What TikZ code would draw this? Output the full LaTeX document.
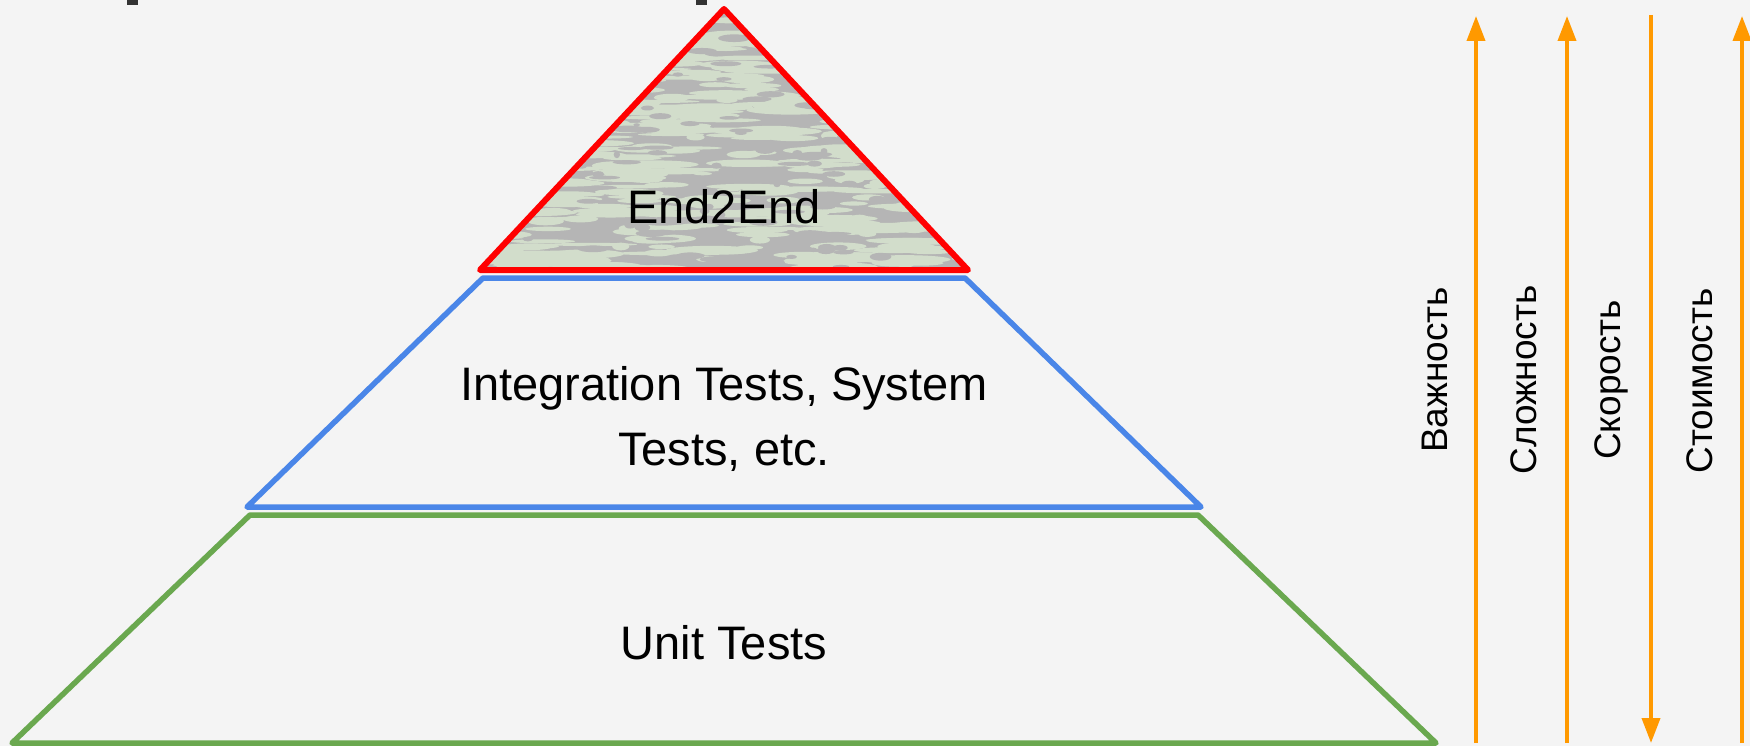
\documentclass[tikz,border=0pt]{standalone}
\usepackage{fontspec}
\setmainfont{Liberation Sans}
\usetikzlibrary{arrows.meta}
\definecolor{bg}{HTML}{F4F4F4}
\definecolor{tred}{HTML}{FF0000}
\definecolor{tblue}{HTML}{4A86E8}
\definecolor{tgreen}{HTML}{6AA84F}
\definecolor{torange}{HTML}{FF9900}
\definecolor{tgray}{HTML}{B5B5B5}
\definecolor{tpale}{HTML}{D2DDCB}
\definecolor{tdark}{HTML}{333333}
\tikzset{
  layer/.style={line width=5.5pt, line join=round, line cap=round},
  bigtext/.style={font=\fontsize{47}{65}\selectfont, text=black, inner sep=0pt},
  sidetext/.style={font=\fontsize{37}{44}\selectfont, text=black, inner sep=0pt, rotate=90, anchor=base},
  axis/.style={draw=torange, line width=3.8pt, -{Triangle[width=18pt,length=25pt]}},
}
\begin{document}
\begin{tikzpicture}[x=1pt,y=-1pt]
\useasboundingbox (0,0) rectangle (1750,746);
\fill[bg] (0,0) rectangle (1750,746);
% fragments of the cut-off title
\fill[tdark] (127,0) rectangle (138,5);
\fill[tdark] (696,0) rectangle (707,5);
% textured apex
\begin{scope}
  \clip (724,9) -- (480,270) -- (968,270) -- cycle;
  \fill[tgray] (470,0) rectangle (980,280);
  \pgfmathsetseed{11}
  \foreach \i in {1,...,520}{
    \pgfmathsetmacro\xx{470+rnd*510}
    \pgfmathsetmacro\yy{5+rnd*270}
    \pgfmathsetmacro\rx{8+rnd*40}
    \pgfmathsetmacro\ry{1.5+rnd*3}
    \fill[tpale] (\xx,\yy) ellipse [x radius=\rx, y radius=\ry];
  }
  \foreach \i in {1,...,160}{
    \pgfmathsetmacro\xx{470+rnd*510}
    \pgfmathsetmacro\yy{5+rnd*270}
    \pgfmathsetmacro\rx{3+rnd*14}
    \pgfmathsetmacro\ry{1.5+rnd*2.5}
    \fill[tgray] (\xx,\yy) ellipse [x radius=\rx, y radius=\ry];
  }
\end{scope}
% pyramid layers
\draw[layer, draw=tred, line width=6pt] (724,9) -- (968,270) -- (480,270) -- cycle;
\draw[layer, draw=tblue] (483,278) -- (965,278) -- (1201,507) -- (247,507) -- cycle;
\draw[layer, draw=tgreen] (250,515) -- (1198,515) -- (1436,743) -- (12,743) -- cycle;
% layer labels
\node[bigtext, anchor=base] (e2e) at (724,223) {End2End};
\node[bigtext, anchor=base, align=center] (integ) at (724,465) {Integration Tests, System\\Tests, etc.};
\node[bigtext, anchor=base] (unit) at (724,659) {Unit Tests};
% axes
\coordinate (a1b) at (1476,743); \coordinate (a1t) at (1476,16);
\coordinate (a2b) at (1567,743); \coordinate (a2t) at (1567,16);
\coordinate (a3b) at (1651,743); \coordinate (a3t) at (1651,15);
\coordinate (a4b) at (1742,743); \coordinate (a4t) at (1742,16);
\draw[axis] (a1b) -- (a1t);
\draw[axis] (a2b) -- (a2t);
\draw[axis] (a3t) -- (a3b);
\draw[axis] (a4b) -- (a4t);
\node[sidetext] (imp) at (1447,370) {Важность};
\node[sidetext] (cmp) at (1536,380) {Сложность};
\node[sidetext] (spd) at (1620,380) {Скорость};
\node[sidetext] (cst) at (1712,381) {Стоимость};
\end{tikzpicture}
\end{document}
